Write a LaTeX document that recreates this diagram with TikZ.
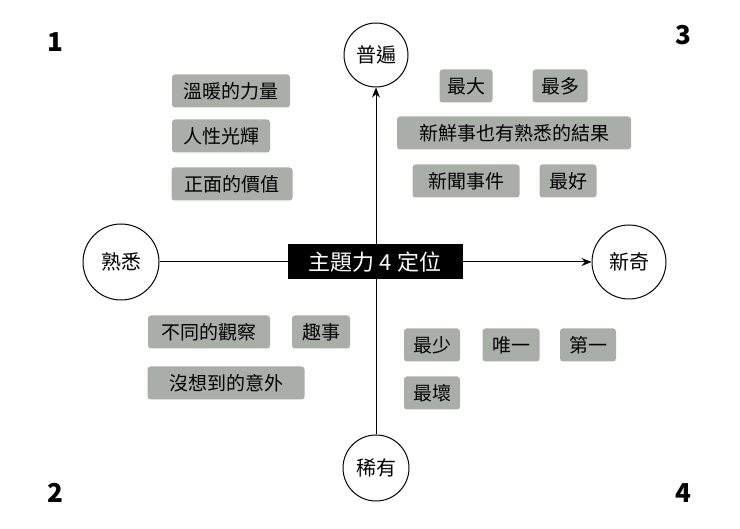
\documentclass[tikz,border=0pt]{standalone}
\usepackage{fontspec}
\setmainfont{Noto Sans CJK TC}
\usetikzlibrary{arrows.meta}
\definecolor{tag}{HTML}{A9AEA9}
\begin{document}
\begin{tikzpicture}[x=1pt,y=-1pt,
  tagbox/.style={fill=tag,rounded corners=3pt,minimum height=33pt,inner xsep=3pt,font=\fontsize{19}{21}\selectfont},
  circ/.style={circle,draw,line width=1pt,fill=white,font=\fontsize{20}{22}\selectfont},
  num/.style={font=\fontsize{26}{28}\selectfont\bfseries}]
\fill[white] (0,0) rectangle (740,529);
\node[circ,minimum size=64pt] (top) at (376,55) {普遍};
\node[circ,minimum size=66pt] (bot) at (376,468) {稀有};
\node[circ,minimum size=76pt] (left) at (121,262) {熟悉};
\node[circ,minimum size=74pt] (right) at (629,262) {新奇};
\draw[line width=1pt,-{Stealth[length=10pt,width=8pt]}] (bot) -- (top);
\draw[line width=1pt,-{Stealth[length=10pt,width=8pt]}] (left) -- (right);
\node[fill=black,text=white,minimum width=175pt,minimum height=35pt,font=\fontsize{22}{24}\selectfont] (c) at (375,262) {主題力 4 定位};
\node[tagbox,minimum width=118pt] (a1) at (231,91) {溫暖的力量};
\node[tagbox,minimum width=98pt] (a2) at (221,136) {人性光輝};
\node[tagbox,minimum width=121pt] (a3) at (232,184) {正面的價值};
\node[tagbox,minimum width=53pt] (b1) at (466,86) {最大};
\node[tagbox,minimum width=55pt] (b2) at (560,86) {最多};
\node[tagbox,minimum width=234pt] (b3) at (514,133) {新鮮事也有熟悉的結果};
\node[tagbox,minimum width=107pt] (b4) at (466,181) {新聞事件};
\node[tagbox,minimum width=57pt] (b5) at (568,181) {最好};
\node[tagbox,minimum width=122pt] (d1) at (209,332) {不同的觀察};
\node[tagbox,minimum width=58pt] (d2) at (321,332) {趣事};
\node[tagbox,minimum width=157pt] (d3) at (226,383) {沒想到的意外};
\node[tagbox,minimum width=56pt] (e1) at (432,345) {最少};
\node[tagbox,minimum width=57pt] (e2) at (511,345) {唯一};
\node[tagbox,minimum width=56pt] (e3) at (588,345) {第一};
\node[tagbox,minimum width=56pt] (e4) at (432,393) {最壞};
\node[num] (n1) at (55,42) {1};
\node[num] (n3) at (683,35) {3};
\node[num] (n2) at (55,493) {2};
\node[num] (n4) at (683,493) {4};
\end{tikzpicture}
\end{document}
